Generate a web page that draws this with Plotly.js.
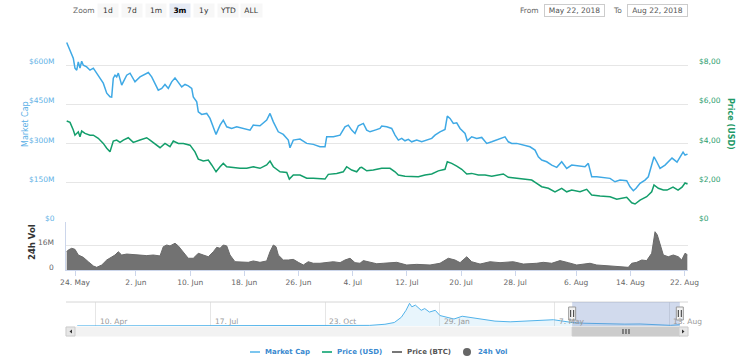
<!DOCTYPE html>
<html>
<head>
<meta charset="utf-8">
<script src="https://cdn.plot.ly/plotly-3.0.1.min.js"></script>
<style>html,body{margin:0;padding:0;background:#fff;}#chart{width:750px;height:361px;}</style>
</head>
<body>
<div id="chart"></div>
<script>
// ---- DATA ----
// Offsets are in days from the base date/time below.
const baseDate = '2018-05-22T07:00:00Z';

const mcDays = [0.48,0.97,1.45,1.70,1.96,2.19,2.44,2.69,2.93,3.43,
  3.92,4.41,4.91,5.40,5.88,6.39,6.87,7.12,7.36,7.61,
  7.86,8.10,8.60,8.84,9.34,9.83,10.31,10.56,11.30,12.04,
  12.53,13.03,13.52,14.00,14.51,14.99,15.48,15.98,16.47,16.96,
  17.46,17.95,18.43,18.94,19.17,19.68,19.91,20.41,21.15,21.64,
  22.13,22.53,23.12,23.60,24.11,24.84,25.58,26.56,27.55,28.03,
  29.02,30.01,30.50,30.99,31.72,32.46,33.20,33.45,33.94,34.93,
  35.92,36.89,37.88,38.62,38.87,39.85,40.84,41.57,42.06,42.56,
  43.05,43.54,43.79,44.28,44.78,45.27,46.01,46.74,46.99,47.73,
  48.47,48.96,49.45,49.95,50.43,50.92,51.42,52.16,52.90,53.64,
  54.38,54.86,55.60,56.34,56.68,57.08,57.57,58.07,58.56,59.30,
  59.63,60.28,61.02,61.76,62.50,63.24,63.97,64.71,65.20,65.69,
  66.19,66.93,67.90,68.89,69.63,70.12,70.62,71.36,72.10,72.84,
  73.57,74.31,75.05,76.03,77.01,77.50,78.00,78.74,79.72,80.71,
  81.44,82.18,83.17,83.66,84.15,84.55,85.14,85.87,86.36,86.86,
  87.20,87.60,88.09,88.83,89.12,89.86,90.60,91.04,91.49,91.78,92.15];
// Market cap, millions of USD
const marketCapM = [686.8,657.4,626.8,588.6,581.0,612.7,588.6,615.3,600.0,593.6,
  581.0,588.6,569.5,550.4,531.3,493.0,478.9,477.8,550.4,561.8,
  555.3,569.5,523.6,536.2,561.8,569.5,550.4,536.2,555.3,564.5,
  572.2,555.3,530.1,504.5,511.0,526.3,511.0,536.2,551.5,536.2,
  517.1,526.3,520.9,511.0,478.9,459.8,421.6,411.6,415.5,396.3,
  364.2,335.2,370.7,389.8,364.2,358.1,364.2,358.1,351.6,370.7,
  368.1,389.8,415.5,383.3,345.1,335.2,313.4,284.0,313.4,317.2,
  300.8,297.0,287.8,287.8,326.0,326.0,332.5,364.2,370.7,351.6,
  339.0,368.1,370.7,377.2,351.6,345.1,351.6,358.1,366.9,364.2,
  358.1,332.5,313.4,319.9,310.7,316.1,306.9,313.4,306.9,313.4,
  319.9,332.5,345.1,354.3,405.1,396.3,377.2,379.5,358.1,339.0,
  310.7,326.0,319.9,323.7,300.8,306.9,313.4,319.9,326.0,306.9,
  300.8,300.8,294.3,287.8,275.2,249.6,237.0,230.5,217.9,209.1,
  230.5,205.2,217.9,214.0,211.4,224.4,173.1,173.1,170.8,167.0,
  154.0,160.5,157.8,134.9,119.6,128.8,147.9,160.5,173.1,217.9,
  249.6,230.5,205.2,217.9,225.5,244.6,229.3,248.4,267.5,256.1,259.9];

const priceDays = [0.48,0.97,1.45,1.70,2.19,2.44,2.69,3.18,3.92,4.41,
  5.14,5.88,6.39,6.87,7.36,7.86,8.35,8.84,9.57,10.31,
  11.30,12.29,12.78,13.52,14.26,14.99,15.73,16.22,16.96,17.70,
  18.69,19.42,19.91,20.65,21.39,21.89,22.53,23.12,23.60,24.11,
  25.08,26.07,27.06,28.03,29.02,30.01,30.50,30.99,31.98,32.97,
  33.35,33.94,34.93,35.92,36.89,37.88,38.62,39.11,40.35,41.32,
  41.82,42.56,43.30,43.79,44.04,44.78,45.75,46.99,48.22,48.96,
  49.45,50.43,51.42,52.40,53.39,54.38,55.35,56.34,56.68,57.33,
  58.07,58.81,59.55,60.28,61.26,62.25,63.24,64.21,64.95,65.69,
  66.68,67.90,69.14,69.88,70.62,71.60,72.58,73.57,74.31,75.05,
  76.28,77.26,78.00,79.23,80.71,81.70,83.17,83.91,84.40,85.14,
  86.12,86.86,87.20,87.84,88.58,89.12,90.01,90.75,91.34,91.78,92.15];
// Price, USD
const priceUSD = [5.15,5.08,4.69,4.43,4.60,4.35,4.64,4.52,4.43,4.43,
  4.27,4.01,3.76,3.58,4.13,4.18,4.06,4.18,4.30,4.06,
  4.18,4.30,4.18,3.96,3.79,4.01,3.84,4.13,4.01,4.01,
  3.92,3.58,3.21,3.11,3.16,2.91,2.56,2.82,2.99,2.82,
  2.77,2.74,2.74,2.82,2.74,2.91,3.11,2.82,2.56,2.53,
  2.19,2.40,2.40,2.23,2.23,2.19,2.19,2.43,2.48,2.56,
  2.82,2.65,2.56,2.77,2.79,2.61,2.65,2.74,2.74,2.56,
  2.40,2.34,2.34,2.31,2.40,2.45,2.61,2.69,3.07,2.99,
  2.85,2.69,2.45,2.48,2.40,2.40,2.34,2.40,2.45,2.28,
  2.23,2.18,2.14,1.97,1.80,1.72,1.54,1.72,1.54,1.63,
  1.54,1.67,1.38,1.33,1.29,1.16,1.26,0.98,0.92,1.12,
  1.29,1.54,1.89,1.72,1.63,1.63,1.78,1.63,1.78,1.99,1.94];

const volDays = [0.48,0.71,1.22,1.70,2.19,2.93,3.67,4.41,4.91,5.65,
  6.39,7.12,7.61,8.10,8.60,9.34,10.31,11.30,12.29,13.27,
  14.26,14.74,15.25,15.73,16.47,16.96,17.70,18.43,19.17,19.91,
  20.65,21.39,22.13,22.63,23.12,23.60,24.11,24.59,25.33,26.32,
  27.29,28.03,29.02,30.01,30.50,30.99,31.39,31.72,32.46,33.20,
  33.94,34.68,35.42,36.15,36.89,37.88,38.87,39.85,40.84,41.57,
  42.31,43.05,43.79,44.28,45.27,46.26,47.23,49.21,50.69,52.16,
  54.13,55.60,56.83,57.82,58.56,59.55,60.28,61.51,62.99,64.46,
  66.43,67.90,69.88,70.86,72.10,73.32,74.55,75.79,77.75,78.74,
  80.71,82.67,83.41,83.91,84.65,85.39,86.12,86.86,87.35,87.69,
  88.09,88.58,89.31,90.05,90.79,91.29,91.78,92.12];
// 24h volume, millions of USD
const volumeM = [11.7,12.8,13.9,13.2,9.6,8.1,5.3,2.6,1.7,3.2,
  6.4,8.5,9.6,11.7,9.6,10.2,10.0,9.6,9.2,9.6,
  9.0,14.9,16.0,15.4,17.1,15.4,11.7,7.5,7.5,10.7,
  9.6,8.5,11.7,14.5,13.9,16.0,15.4,9.6,5.3,4.9,
  4.9,5.8,4.9,5.8,11.7,16.0,14.9,9.6,6.4,6.4,
  6.8,4.9,3.2,5.3,4.3,4.3,4.7,5.3,4.7,6.4,
  7.5,4.7,4.3,6.0,5.0,4.0,4.3,4.9,3.2,3.6,
  3.2,4.3,7.5,6.4,4.7,8.5,5.3,3.8,5.3,4.7,
  5.3,3.8,4.3,4.9,4.3,6.0,4.7,3.2,4.3,3.2,
  2.6,2.1,1.7,4.3,4.9,6.4,6.0,10.7,24.5,22.4,
  17.1,9.6,8.5,9.6,8.5,6.4,10.7,9.8];

// Navigator (full history of market cap, millions USD)
const navDates = ['2017-03-25','2017-05-26','2017-08-03','2017-10-01','2017-11-30','2017-12-13',
  '2017-12-21','2017-12-27','2017-12-31','2018-01-03','2018-01-05','2018-01-08','2018-01-13',
  '2018-01-16','2018-01-20','2018-01-25','2018-01-29','2018-02-04','2018-02-10','2018-02-17',
  '2018-02-23','2018-03-01','2018-03-09','2018-03-17','2018-03-30','2018-04-11','2018-04-23',
  '2018-05-06','2018-05-12','2018-05-22','2018-06-01','2018-06-12','2018-06-16','2018-07-06',
  '2018-07-19','2018-08-01','2018-08-14','2018-08-22'];
const navMarketCapM = [15,30,40,45,120,345,
  690,1725,3105,4485,3795,4140,3105,
  3450,2760,3105,2070,1725,1380,1932,
  1725,1518,1242,966,828,966,1104,
  1242,1035,690,550,500,360,370,
  400,300,130,260];

// Tick labels
const mainTickDates = ['2018-05-24','2018-06-02','2018-06-10','2018-06-18','2018-06-26','2018-07-04',
  '2018-07-12','2018-07-20','2018-07-28','2018-08-06','2018-08-14','2018-08-22'];
const mainTickText = ['24. May','2. Jun','10. Jun','18. Jun','26. Jun','4. Jul',
  '12. Jul','20. Jul','28. Jul','6. Aug','14. Aug','22. Aug'];
const navTickDates = ['2017-04-10','2017-07-17','2017-10-23','2018-01-29','2018-05-07','2018-08-13'];
const navTickText = ['10. Apr','17. Jul','23. Oct','29. Jan','7. May','13. Aug'];
const capTicks = [0,150,300,450,600,750];
const capTickText = ['$0','$150M','$300M','$450M','$600M',''];
const priceTicks = [0,2,4,6,8];
const priceTickText = ['$0','$2,00','$4,00','$6,00','$8,00'];
const volTicks = [0,16];
const volTickText = ['0','16M'];
const zoomButtons = ['1d','7d','1m','3m','1y','YTD','ALL'];
const selectedButton = '3m';
const rangeFrom = 'May 22, 2018', rangeTo = 'Aug 22, 2018';
const selStart = '2018-05-22', selEnd = '2018-08-22';
const legendItems = ['Market Cap','Price (USD)','Price (BTC)','24h Vol'];

// ---- helpers ----
const W = 750, H = 361;
const px = x => x / W;
const py = y => 1 - y / H;
const BASE = Date.parse(baseDate);
const DAY = 86400000;
const toMs = arr => arr.map(d => BASE + d * DAY);
const FONT = 'DejaVu Sans';

const cBlue = '#3fa9e5', cGreen = '#139e6b', cVol = '#727272';

const traces = [
  {x: toMs(volDays), y: volumeM.map(v => v * 1e6), xaxis: 'x', yaxis: 'y3', type: 'scatter', mode: 'lines',
   fill: 'tozeroy', fillcolor: cVol, line: {color: '#6a6a6a', width: 1}, hoverinfo: 'skip'},
  {x: toMs(mcDays), y: marketCapM.map(v => v * 1e6), xaxis: 'x', yaxis: 'y', type: 'scatter', mode: 'lines',
   line: {color: cBlue, width: 1.5}, hoverinfo: 'skip'},
  {x: toMs(priceDays), y: priceUSD, xaxis: 'x', yaxis: 'y2', type: 'scatter', mode: 'lines',
   line: {color: cGreen, width: 1.5}, hoverinfo: 'skip'},
  {x: navDates, y: navMarketCapM, xaxis: 'x2', yaxis: 'y4', type: 'scatter', mode: 'lines',
   fill: 'tozeroy', fillcolor: 'rgba(63,169,229,0.12)', line: {color: '#52b3ea', width: 1}, hoverinfo: 'skip'}
];

const xDom = [px(66), px(688)];
const layout = {
  width: W, height: H, autosize: false,
  margin: {l: 0, r: 0, t: 0, b: 0, pad: 0},
  paper_bgcolor: '#ffffff', plot_bgcolor: 'rgba(0,0,0,0)',
  font: {family: FONT, size: 7.5, color: '#666'},
  showlegend: false, hovermode: false,
  xaxis: {domain: xDom, anchor: 'y3', type: 'date',
    range: [BASE + 0.375 * DAY, BASE + 92.22 * DAY],
    tickvals: mainTickDates, ticktext: mainTickText,
    ticks: 'outside', ticklen: 5, tickcolor: '#ccd6eb', tickwidth: 1,
    showline: true, linecolor: '#ccd6eb', linewidth: 1,
    showgrid: false, zeroline: false, fixedrange: true,
    tickfont: {family: FONT, size: 7.5, color: '#666'}},
  yaxis: {domain: [py(222), py(26)], anchor: 'x', range: [0, 750e6],
    tickvals: capTicks.map(v => v * 1e6), showticklabels: false,
    showgrid: true, gridcolor: '#e6e6e6', gridwidth: 1, zeroline: false, showline: false,
    ticks: '', fixedrange: true},
  yaxis2: {overlaying: 'y', side: 'right', anchor: 'x', range: [0, 10],
    tickvals: priceTicks, showticklabels: false,
    showgrid: false, zeroline: false, showline: false, ticks: '', fixedrange: true},
  yaxis3: {domain: [py(270), py(222)], anchor: 'x', range: [0, 30.72e6],
    tickvals: volTicks.map(v => v * 1e6), showticklabels: false,
    showgrid: true, gridcolor: '#e6e6e6', zeroline: false,
    showline: true, linecolor: '#ccd6eb', linewidth: 1, ticks: '', fixedrange: true},
  xaxis2: {domain: xDom, anchor: 'y4', type: 'date',
    range: ['2017-03-15 10:00', '2018-08-29'],
    tickvals: navTickDates, showticklabels: false, ticks: '',
    showgrid: true, gridcolor: '#e6e6e6', zeroline: false, showline: false, fixedrange: true},
  yaxis4: {domain: [py(326), py(302)], anchor: 'x2', range: [0, 4750],
    showgrid: false, showticklabels: false, zeroline: false, showline: false, ticks: '', fixedrange: true},
  shapes: [],
  annotations: []
};

const S = layout.shapes, A = layout.annotations;

// Y-axis tick labels (sit slightly above their gridlines, as in the reference)
capTicks.forEach((v, i) => A.push({xref: 'paper', yref: 'y', x: px(57.5), y: v * 1e6, yshift: 3.5,
  xanchor: 'right', yanchor: 'middle', text: capTickText[i], showarrow: false,
  font: {family: FONT, size: 7.5, color: '#62b2e6'}}));
priceTicks.forEach((v, i) => A.push({xref: 'paper', yref: 'y2', x: px(696.5), y: v, yshift: 3.5,
  xanchor: 'left', yanchor: 'middle', text: priceTickText[i], showarrow: false,
  font: {family: FONT, size: 7.5, color: '#2a9d6d'}}));
volTicks.forEach((v, i) => A.push({xref: 'paper', yref: 'y3', x: px(56), y: v * 1e6, yshift: 3,
  xanchor: 'right', yanchor: 'middle', text: volTickText[i], showarrow: false,
  font: {family: FONT, size: 7.5, color: '#666'}}));

// Navigator outline and selection mask
S.push({type: 'line', xref: 'paper', yref: 'paper', x0: px(66), x1: px(688), y0: py(302), y1: py(302),
  line: {color: '#d6d6d6', width: 1}});
S.push({type: 'rect', xref: 'x2', yref: 'paper', x0: selStart, x1: selEnd, y0: py(326), y1: py(302),
  fillcolor: 'rgba(102,133,194,0.3)', line: {width: 0}, layer: 'above'});
// Scrollbar
S.push({type: 'rect', xref: 'paper', yref: 'paper', x0: px(66), x1: px(688), y0: py(336), y1: py(327),
  fillcolor: '#f2f2f2', line: {color: '#f2f2f2', width: 1}});
S.push({type: 'rect', xref: 'x2', yref: 'paper', x0: selStart, x1: selEnd, y0: py(336), y1: py(327),
  fillcolor: '#cccccc', line: {color: '#cccccc', width: 1}});
S.push({type: 'rect', xref: 'paper', yref: 'paper', x0: px(66), x1: px(75), y0: py(336), y1: py(327),
  fillcolor: '#e6e6e6', line: {color: '#cccccc', width: 1}});
S.push({type: 'rect', xref: 'paper', yref: 'paper', x0: px(679), x1: px(688), y0: py(336), y1: py(327),
  fillcolor: '#e6e6e6', line: {color: '#cccccc', width: 1}});
S.push({type: 'path', xref: 'paper', yref: 'paper',
  path: `M ${px(72)} ${py(329.5)} L ${px(72)} ${py(333.5)} L ${px(69.5)} ${py(331.5)} Z`,
  fillcolor: '#333', line: {width: 0}});
S.push({type: 'path', xref: 'paper', yref: 'paper',
  path: `M ${px(682)} ${py(329.5)} L ${px(682)} ${py(333.5)} L ${px(684.5)} ${py(331.5)} Z`,
  fillcolor: '#333', line: {width: 0}});
// thumb ribs
const selMid = (Date.parse(selStart) + Date.parse(selEnd)) / 2;
[-3, 0, 3].forEach(o => S.push({type: 'line', xref: 'x2', yref: 'paper', xsizemode: 'pixel', xanchor: selMid,
  x0: o, x1: o, y0: py(329), y1: py(334), line: {color: '#333', width: 1}}));
// handles
[selStart, selEnd].forEach(d => {
  S.push({type: 'rect', xref: 'x2', yref: 'paper', xsizemode: 'pixel', xanchor: d, x0: -3.5, x1: 3.5,
    y0: py(320), y1: py(307), fillcolor: '#f2f2f2', line: {color: '#999', width: 1}, layer: 'above'});
  [-1.5, 1.5].forEach(o => S.push({type: 'line', xref: 'x2', yref: 'paper', xsizemode: 'pixel', xanchor: d,
    x0: o, x1: o, y0: py(310), y1: py(317), line: {color: '#333', width: 1}, layer: 'above'}));
});

// Navigator labels
navTickDates.forEach((d, i) => A.push({xref: 'x2', yref: 'paper', x: d, y: py(321), xanchor: 'left', yanchor: 'middle',
  xshift: 2, text: navTickText[i], showarrow: false, font: {family: FONT, size: 7.5, color: '#999'}}));

// Axis titles
A.push({xref: 'paper', yref: 'paper', x: px(25), y: py(124), text: 'Market Cap', textangle: -90, showarrow: false,
  xanchor: 'center', yanchor: 'middle', font: {family: FONT, size: 8, color: '#5cb0e6'}});
A.push({xref: 'paper', yref: 'paper', x: px(731), y: py(124), text: 'Price (USD)', textangle: 90, showarrow: false,
  xanchor: 'center', yanchor: 'middle', font: {family: FONT, size: 8, color: '#1f9a68', weight: 'bold'}});
A.push({xref: 'paper', yref: 'paper', x: px(32), y: py(242), text: '24h Vol', textangle: -90, showarrow: false,
  xanchor: 'center', yanchor: 'middle', font: {family: FONT, size: 8.5, color: '#333', weight: 'bold'}});

// Toolbar
const TY = py(10.5);
A.push({xref: 'paper', yref: 'paper', x: px(84), y: TY, xanchor: 'center', yanchor: 'middle', text: 'Zoom', showarrow: false,
  font: {family: FONT, size: 7.5, color: '#666'}});
const btnCenters = [108, 132, 156, 180, 204, 227.5, 251.5];
const btnWidths = [20, 20, 20, 20, 20, 20, 21];
zoomButtons.forEach((b, i) => {
  const sel = b === selectedButton;
  A.push({xref: 'paper', yref: 'paper', x: px(btnCenters[i]), y: TY, xanchor: 'center', yanchor: 'middle',
    text: b, showarrow: false, width: btnWidths[i], height: 13, borderpad: 0,
    bgcolor: sel ? '#e6ebf5' : '#f7f7f7',
    font: {family: FONT, size: 7.5, color: sel ? '#000' : '#333', weight: sel ? 'bold' : 'normal'}});
});
A.push({xref: 'paper', yref: 'paper', x: px(529.5), y: TY, xanchor: 'center', yanchor: 'middle', text: 'From', showarrow: false,
  font: {family: FONT, size: 7.5, color: '#666'}});
A.push({xref: 'paper', yref: 'paper', x: px(617), y: TY, xanchor: 'center', yanchor: 'middle', text: 'To', showarrow: false,
  font: {family: FONT, size: 7.5, color: '#666'}});
[[574.7, rangeFrom], [657, rangeTo]].forEach(([cx, t]) => A.push({xref: 'paper', yref: 'paper', x: px(cx), y: TY,
  xanchor: 'center', yanchor: 'middle', text: t, showarrow: false, width: 59, height: 11, borderpad: 0,
  bordercolor: '#cccccc', borderwidth: 1, bgcolor: '#ffffff', font: {family: FONT, size: 7.5, color: '#555'}}));

// Legend
const legY = 352;
const legSym = [[250, 260, '#7cc6ef'], [322, 332, '#3db58d'], [392, 402, '#777777']];
legSym.forEach(([a, b, c]) => S.push({type: 'line', xref: 'paper', yref: 'paper', x0: px(a), x1: px(b),
  y0: py(legY), y1: py(legY), line: {color: c, width: 2}}));
S.push({type: 'circle', xref: 'paper', yref: 'paper', x0: px(463), x1: px(471), y0: py(356), y1: py(348),
  fillcolor: '#666', line: {width: 0}});
const legTextX = [263, 335, 405, 476];
const legColors = ['#3a89cf', '#3a89cf', '#555555', '#3a89cf'];
legendItems.forEach((t, i) => A.push({xref: 'paper', yref: 'paper', x: px(legTextX[i]), y: py(legY),
  xanchor: 'left', yanchor: 'middle', text: t, showarrow: false,
  font: {family: FONT, size: 7, color: legColors[i], weight: 'bold'}}));

Plotly.newPlot('chart', traces, layout, {staticPlot: true, displayModeBar: false});
</script>
</body>
</html>
